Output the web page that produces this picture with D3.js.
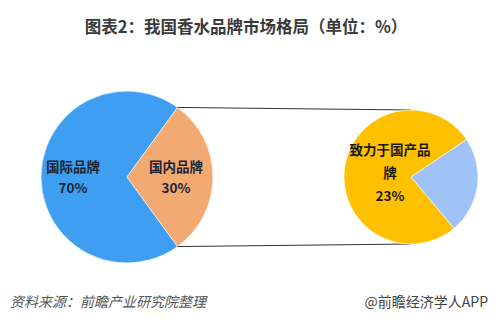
<!DOCTYPE html>
<html>
<head>
<meta charset="utf-8">
<style>
  body { margin: 0; background: #fff; }
  svg { display: block; font-family: "Noto Sans CJK SC", "Noto Sans", sans-serif; }
</style>
</head>
<body>
<div id="chart"></div>
<script src="https://d3js.org/d3.v7.min.js"></script>
<script>
// data
var mainLabels = ["国际品牌", "国内品牌"];
var mainValues = [70, 30];
var subLabels = ["致力于国产品牌", "其他"];
var subValues = [23, 7];
var mainColors = ["#3e9ff2", "#f2a972"];
var subColors = ["#ffc000", "#9fc2f7"];

var width = 500, height = 332;
var svg = d3.select("#chart").append("svg")
    .attr("width", width)
    .attr("height", height);

// title
svg.append("text")
    .attr("x", 246)
    .attr("y", 33)
    .attr("text-anchor", "middle")
    .style("font-size", "16.5px")
    .style("font-weight", "bold")
    .attr("fill", "#3a3a3a")
    .text("图表2：我国香水品牌市场格局（单位：%）");

// left pie, domestic slice centred at 3 o'clock
var c1 = {x: 127, y: 177}, r1 = 86;
var domSpan = mainValues[1] / d3.sum(mainValues) * 2 * Math.PI;
var start1 = Math.PI / 2 + domSpan / 2;
var pie1 = d3.pie().sort(null).startAngle(start1).endAngle(start1 + 2 * Math.PI);
var arcs1 = pie1(mainValues);
var arc1 = d3.arc().innerRadius(0).outerRadius(r1);

var g1 = svg.append("g").attr("transform", "translate(" + c1.x + "," + c1.y + ")");
g1.selectAll("path")
    .data(arcs1)
    .enter().append("path")
    .attr("d", arc1)
    .attr("fill", function(d, i) { return mainColors[i]; })
    .attr("stroke", "#fff")
    .attr("stroke-width", 0.6);

var lblPos1 = [[-54, -10], [49, -10]];
g1.selectAll("text.name")
    .data(arcs1)
    .enter().append("text")
    .attr("x", function(d, i) { return lblPos1[i][0]; })
    .attr("y", function(d, i) { return lblPos1[i][1]; })
    .attr("text-anchor", "middle")
    .attr("dy", "0.35em")
    .style("font-size", "13.5px")
    .style("font-weight", "bold")
    .attr("fill", "#1c2433")
    .text(function(d, i) { return mainLabels[i]; });
g1.selectAll("text.val")
    .data(arcs1)
    .enter().append("text")
    .attr("x", function(d, i) { return lblPos1[i][0]; })
    .attr("y", function(d, i) { return lblPos1[i][1] + 21; })
    .attr("text-anchor", "middle")
    .attr("dy", "0.35em")
    .style("font-size", "13.5px")
    .style("font-weight", "bold")
    .attr("fill", "#1c2433")
    .text(function(d) { return d.data + "%"; });

// right pie
var c2 = {x: 411, y: 177}, r2 = 67;
var otherSpan = subValues[1] / d3.sum(subValues) * 2 * Math.PI;
var start2 = 56 * Math.PI / 180 + otherSpan;
var pie2 = d3.pie().sort(null).startAngle(start2).endAngle(start2 + 2 * Math.PI);
var arcs2 = pie2(subValues);
var arc2 = d3.arc().innerRadius(0).outerRadius(r2);

// connector lines
var dom = arcs1[1];
var pTop = [c1.x + r1 * Math.sin(dom.startAngle), c1.y - r1 * Math.cos(dom.startAngle)];
var pBot = [c1.x + r1 * Math.sin(dom.endAngle), c1.y - r1 * Math.cos(dom.endAngle)];
svg.append("line")
    .attr("x1", pTop[0]).attr("y1", pTop[1])
    .attr("x2", c2.x).attr("y2", c2.y - r2)
    .attr("stroke", "#333").attr("stroke-width", 1);
svg.append("line")
    .attr("x1", pBot[0]).attr("y1", pBot[1])
    .attr("x2", c2.x).attr("y2", c2.y + r2)
    .attr("stroke", "#333").attr("stroke-width", 1);

var g2 = svg.append("g").attr("transform", "translate(" + c2.x + "," + c2.y + ")");
g2.selectAll("path")
    .data(arcs2)
    .enter().append("path")
    .attr("d", arc2)
    .attr("fill", function(d, i) { return subColors[i]; })
    .attr("stroke", "#fff")
    .attr("stroke-width", 0.6);

var subLines = ["致力于国产品", "牌", subValues[0] + "%"];
g2.selectAll("text")
    .data(subLines)
    .enter().append("text")
    .attr("x", -21)
    .attr("y", function(d, i) { return -27 + i * 23; })
    .attr("dy", "0.35em")
    .attr("text-anchor", "middle")
    .style("font-size", "13.5px")
    .style("font-weight", "bold")
    .attr("fill", "#1a1a1a")
    .text(function(d) { return d; });

// footer
svg.append("text")
    .attr("x", 10)
    .attr("y", 307)
    .style("font-size", "14px")
    .style("font-style", "italic")
    .attr("fill", "#555")
    .text("资料来源：前瞻产业研究院整理");
svg.append("text")
    .attr("x", 488)
    .attr("y", 307)
    .attr("text-anchor", "end")
    .style("font-size", "14px")
    .attr("fill", "#444")
    .text("@前瞻经济学人APP");
</script>
</body>
</html>
